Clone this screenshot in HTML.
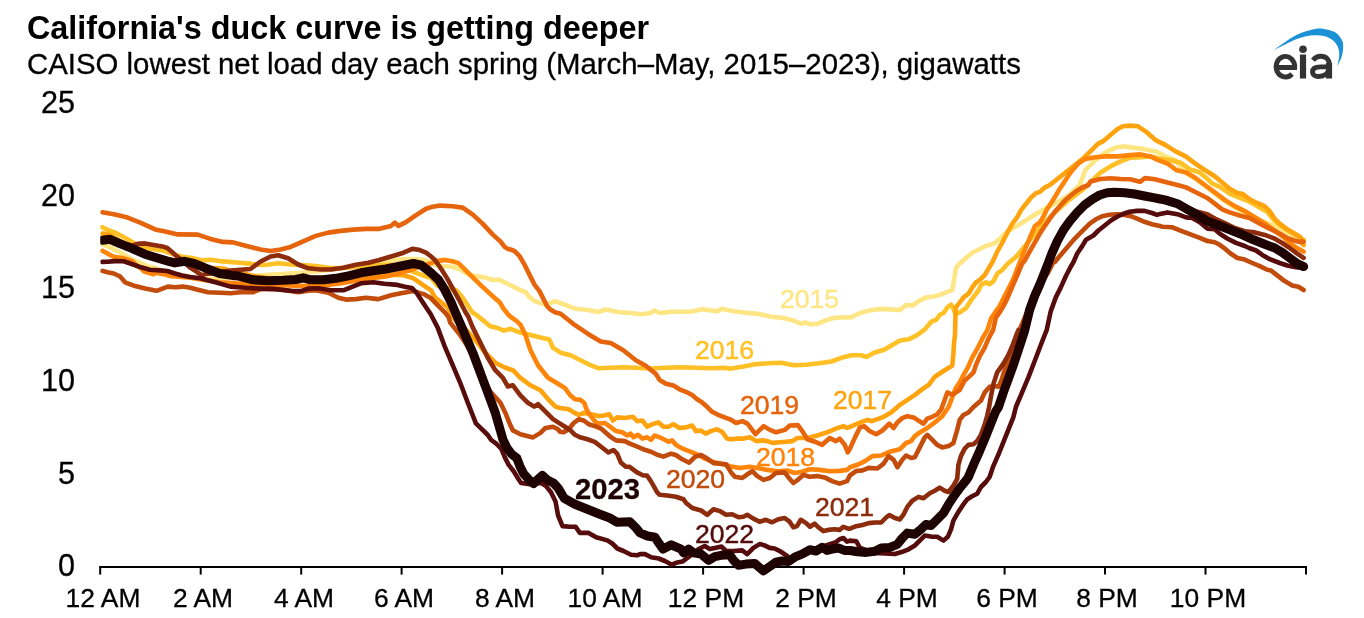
<!DOCTYPE html><html><head><meta charset="utf-8"><title>California duck curve</title>
<style>
html,body{margin:0;padding:0;background:#fff;}
body{width:1364px;height:618px;overflow:hidden;position:relative;font-family:"Liberation Sans",sans-serif;color:#000;}
.t{position:absolute;white-space:nowrap;line-height:1;will-change:transform;}
#title{left:27.0px;top:11.6px;font-size:32.35px;font-weight:bold;}
#sub{left:26.8px;top:48.8px;font-size:29.38px;-webkit-text-stroke:0.3px #000;}
.xl,.yl{-webkit-text-stroke:0.3px #000;}
.yl{right:1288.6px;font-size:30.6px;text-align:right;}
.xl{font-size:26.4px;top:584.6px;transform:translateX(-50%);}
.ll{font-size:24px;}
svg{position:absolute;left:0;top:0;}
</style></head><body>
<div class="t" id="title">California's duck curve is getting deeper</div>
<div class="t" id="sub">CAISO lowest net load day each spring (March–May, 2015–2023), gigawatts</div>
<div class="t yl" style="top:550.4px">0</div>
<div class="t yl" style="top:457.7px">5</div>
<div class="t yl" style="top:365.0px">10</div>
<div class="t yl" style="top:272.2px">15</div>
<div class="t yl" style="top:179.5px">20</div>
<div class="t yl" style="top:86.8px">25</div>
<div class="t xl" style="left:102.6px">12 AM</div>
<div class="t xl" style="left:203.1px">2 AM</div>
<div class="t xl" style="left:303.6px">4 AM</div>
<div class="t xl" style="left:404.0px">6 AM</div>
<div class="t xl" style="left:504.5px">8 AM</div>
<div class="t xl" style="left:605.0px">10 AM</div>
<div class="t xl" style="left:705.5px">12 PM</div>
<div class="t xl" style="left:806.0px">2 PM</div>
<div class="t xl" style="left:906.5px">4 PM</div>
<div class="t xl" style="left:1007.0px">6 PM</div>
<div class="t xl" style="left:1107.4px">8 PM</div>
<div class="t xl" style="left:1207.9px">10 PM</div>
<svg width="1364" height="618" viewBox="0 0 1364 618">
<path d="M99.2 567.0 H1307.0" stroke="#000" stroke-width="2" fill="none"/>
<path d="M100.2 567.0 V574.6" stroke="#000" stroke-width="2" fill="none"/>
<path d="M200.7 567.0 V574.6" stroke="#000" stroke-width="2" fill="none"/>
<path d="M301.2 567.0 V574.6" stroke="#000" stroke-width="2" fill="none"/>
<path d="M401.6 567.0 V574.6" stroke="#000" stroke-width="2" fill="none"/>
<path d="M502.1 567.0 V574.6" stroke="#000" stroke-width="2" fill="none"/>
<path d="M602.6 567.0 V574.6" stroke="#000" stroke-width="2" fill="none"/>
<path d="M703.1 567.0 V574.6" stroke="#000" stroke-width="2" fill="none"/>
<path d="M803.6 567.0 V574.6" stroke="#000" stroke-width="2" fill="none"/>
<path d="M904.1 567.0 V574.6" stroke="#000" stroke-width="2" fill="none"/>
<path d="M1004.6 567.0 V574.6" stroke="#000" stroke-width="2" fill="none"/>
<path d="M1105.0 567.0 V574.6" stroke="#000" stroke-width="2" fill="none"/>
<path d="M1205.5 567.0 V574.6" stroke="#000" stroke-width="2" fill="none"/>
<path d="M1306.0 567.0 V574.6" stroke="#000" stroke-width="2" fill="none"/>
<defs><clipPath id="cp"><rect x="100.3" y="90" width="1215" height="500"/></clipPath></defs><g clip-path="url(#cp)">
<path d="M102.4 244.3 L107.5 246.1 L119.9 252.3 L132.4 259.8 L144.9 264.8 L147.7 266.5 L153.6 267.3 L165.2 271.5 L180.3 275.3 L195.3 277.8 L210.4 279.0 L225.4 278.3 L240.5 276.5 L260.6 275.3 L280.6 274.0 L300.7 272.8 L315.7 271.5 L330.8 269.8 L345.8 267.2 L360.9 264.7 L375.9 262.7 L391.0 260.7 L403.5 259.0 L416.1 259.0 L426.1 260.2 L431.1 262.7 L434.9 264.9 L444.8 266.2 L452.3 266.8 L459.8 269.3 L467.3 273.7 L474.7 276.1 L484.7 277.4 L492.2 279.9 L499.7 279.9 L507.1 283.6 L517.1 288.6 L525.8 292.3 L528.3 296.1 L534.6 301.1 L542.0 303.6 L547.0 304.2 L552.0 302.3 L555.0 301.1 L565.6 305.0 L575.6 308.8 L588.1 310.0 L598.2 312.0 L605.7 309.5 L618.2 312.0 L630.8 313.0 L640.8 314.3 L650.8 313.0 L654.6 310.5 L659.6 313.0 L670.9 311.8 L683.4 311.8 L690.0 311.8 L702.5 309.3 L717.4 311.2 L721.8 308.7 L733.6 311.2 L746.1 312.7 L758.5 313.9 L771.0 316.8 L783.5 318.0 L793.4 320.5 L801.5 323.9 L804.7 322.4 L809.6 324.2 L817.1 323.9 L827.1 319.9 L833.3 318.0 L842.1 317.4 L850.8 317.4 L857.0 314.3 L860.7 312.8 L871.5 310.1 L881.5 308.9 L894.0 309.6 L900.0 309.9 L906.2 304.9 L912.5 305.5 L918.7 301.1 L926.2 297.4 L932.4 296.8 L939.9 294.9 L946.1 292.4 L952.3 289.9 L954.2 278.7 L956.1 267.5 L959.8 263.7 L963.6 260.0 L972.7 252.5 L985.3 246.3 L990.0 244.8 L995.0 243.0 L1000.0 238.6 L1005.0 233.6 L1011.2 229.2 L1017.4 225.5 L1024.9 221.1 L1032.4 216.2 L1039.9 211.8 L1047.3 207.4 L1054.8 203.7 L1062.3 199.3 L1069.8 194.3 L1076.0 188.7 L1079.7 185.0 L1085.3 170.2 L1095.4 160.2 L1105.4 152.6 L1115.4 147.6 L1123.0 146.4 L1133.0 147.6 L1143.0 148.9 L1155.6 151.4 L1165.6 156.4 L1175.6 160.2 L1182.3 170.0 L1194.8 178.7 L1204.8 185.6 L1214.8 193.7 L1224.7 201.2 L1234.7 207.4 L1244.7 212.4 L1252.1 216.1 L1262.1 221.1 L1272.1 224.8 L1282.1 229.8 L1292.0 234.8 L1300.0 238.5 L1302.2 240.5 L1303.6 241.6" fill="none" stroke="#FEE685" stroke-width="4.6" stroke-linejoin="round" stroke-linecap="round"/>
<path d="M102.4 227.2 L107.5 229.9 L116.2 233.0 L126.2 238.6 L134.9 243.6 L144.9 248.0 L154.8 249.2 L164.8 251.1 L174.8 254.8 L182.2 256.7 L192.2 258.0 L202.2 260.4 L210.9 259.8 L219.6 261.1 L229.6 261.9 L239.6 262.7 L249.5 263.6 L257.0 264.8 L265.0 265.0 L278.1 263.2 L290.6 264.5 L305.7 265.2 L315.7 266.0 L328.3 267.8 L340.8 268.3 L353.3 267.2 L365.9 266.5 L378.4 265.2 L391.0 264.7 L403.5 267.8 L416.1 272.8 L426.1 276.5 L431.1 277.8 L437.3 285.5 L443.6 287.4 L456.0 289.9 L462.3 297.3 L467.3 304.8 L472.2 312.3 L477.2 315.4 L480.0 317.9 L490.3 326.3 L497.8 328.1 L504.1 330.6 L510.4 328.8 L520.4 332.6 L530.5 335.1 L540.5 337.6 L549.3 339.4 L553.0 347.7 L560.6 352.7 L570.6 355.2 L580.6 360.2 L590.6 365.2 L598.2 368.2 L610.7 367.7 L623.3 367.2 L635.8 367.7 L650.8 368.5 L665.9 367.7 L680.9 367.2 L696.0 367.7 L711.0 368.2 L723.6 367.7 L731.1 368.6 L743.5 366.6 L756.1 364.1 L768.6 363.3 L781.2 362.8 L793.7 365.3 L806.2 364.8 L818.8 363.3 L831.3 361.5 L841.4 357.8 L851.4 355.3 L861.4 355.3 L866.4 357.0 L874.0 352.8 L884.0 349.8 L894.0 344.0 L900.0 340.6 L908.7 339.3 L916.2 335.6 L924.3 329.9 L931.2 321.7 L936.1 319.8 L939.9 314.8 L943.6 313.0 L947.4 307.4 L951.1 304.6 L953.3 308.0 L955.5 314.2 L959.8 312.3 L966.1 308.0 L971.7 299.3 L978.5 290.5 L981.0 284.9 L986.0 282.4 L989.7 284.3 L993.5 281.2 L997.2 273.7 L1002.2 270.0 L1007.9 263.5 L1014.9 257.9 L1019.9 252.3 L1024.9 246.1 L1031.1 238.6 L1037.4 231.1 L1044.8 222.4 L1052.3 214.9 L1059.8 208.1 L1067.3 201.2 L1074.8 195.6 L1082.2 190.0 L1090.0 182.6 L1100.4 172.7 L1110.4 166.4 L1120.5 161.4 L1130.5 157.7 L1140.5 157.2 L1150.6 156.4 L1160.6 158.9 L1170.6 160.2 L1180.6 162.7 L1190.7 170.2 L1192.3 170.0 L1199.8 172.5 L1207.3 178.7 L1212.3 183.7 L1219.7 186.8 L1227.2 191.8 L1229.7 193.7 L1237.2 196.8 L1247.2 200.5 L1259.6 207.4 L1267.1 211.8 L1273.3 219.2 L1279.6 224.8 L1287.0 229.8 L1300.0 237.9 L1302.2 238.9 L1303.6 239.8" fill="none" stroke="#FFC125" stroke-width="4.6" stroke-linejoin="round" stroke-linecap="round"/>
<path d="M102.4 233.6 L107.5 234.3 L111.2 235.5 L119.9 241.1 L132.4 247.4 L144.9 253.0 L157.3 256.7 L169.8 259.8 L182.2 262.3 L194.7 264.8 L207.2 267.9 L219.6 268.3 L225.7 269.1 L232.1 273.5 L240.5 272.8 L255.5 276.5 L270.6 278.3 L285.6 278.3 L300.7 277.8 L315.7 277.8 L330.8 277.8 L345.8 277.3 L360.9 276.5 L375.9 275.3 L391.0 274.8 L403.5 275.3 L413.5 278.3 L423.6 285.3 L431.1 290.3 L434.9 297.3 L441.1 302.3 L447.3 307.3 L451.1 313.5 L452.9 317.0 L455.2 320.1 L465.2 328.8 L475.3 340.1 L485.3 352.7 L495.3 362.7 L505.4 367.7 L512.9 370.2 L520.4 377.8 L530.5 385.3 L540.5 390.3 L548.0 399.1 L555.5 406.6 L560.0 408.0 L568.7 409.3 L573.7 412.4 L578.7 414.9 L583.7 413.0 L591.2 414.3 L598.6 416.1 L603.6 415.5 L609.2 414.3 L613.0 420.5 L617.3 417.4 L624.8 418.0 L632.9 416.8 L637.3 421.1 L642.3 420.5 L647.2 426.7 L652.2 424.2 L658.5 422.4 L663.4 426.7 L668.4 426.7 L673.4 424.2 L679.6 428.0 L685.9 427.4 L692.1 425.5 L695.9 431.1 L700.8 430.5 L705.8 433.6 L710.8 431.1 L717.0 429.2 L722.0 431.7 L727.0 438.6 L730.0 439.2 L737.5 438.6 L743.7 438.6 L749.9 437.3 L756.2 441.1 L762.4 440.4 L767.4 441.1 L772.4 442.9 L779.9 442.3 L786.1 441.7 L792.3 441.1 L797.3 438.0 L802.3 438.0 L807.3 438.0 L817.2 435.5 L827.2 432.3 L835.9 428.6 L843.4 426.1 L847.2 428.0 L850.0 426.8 L857.5 423.7 L867.4 419.9 L871.8 421.2 L882.4 417.4 L891.1 412.5 L900.0 404.8 L907.5 399.8 L915.0 394.8 L922.4 389.2 L928.7 384.8 L934.9 376.7 L942.4 371.8 L952.3 365.5 L953.3 354.9 L954.1 342.5 L955.0 334.8 L955.3 322.3 L955.7 307.4 L959.8 302.4 L963.6 297.4 L968.5 293.7 L972.3 287.4 L976.0 282.4 L979.8 279.9 L984.8 275.0 L988.5 268.7 L992.5 262.0 L997.5 251.1 L1002.5 242.3 L1007.4 232.4 L1012.4 223.6 L1017.4 216.8 L1021.2 209.9 L1026.1 203.7 L1031.1 197.5 L1036.1 193.1 L1039.9 191.9 L1044.8 187.5 L1049.8 185.0 L1082.8 158.9 L1090.4 151.4 L1097.9 143.9 L1102.9 141.4 L1110.4 135.1 L1117.9 128.8 L1123.0 126.3 L1130.5 125.6 L1138.0 126.3 L1145.5 131.3 L1155.6 140.1 L1165.6 145.1 L1175.6 151.4 L1185.7 156.4 L1195.7 163.9 L1204.8 170.0 L1214.8 176.2 L1222.2 182.5 L1229.7 188.7 L1237.2 193.1 L1242.2 193.7 L1249.6 199.3 L1257.1 203.0 L1264.6 206.1 L1269.6 211.1 L1274.6 218.6 L1279.6 223.6 L1287.0 229.2 L1294.5 233.6 L1300.5 237.3 L1302.2 243.9 L1303.6 245.0" fill="none" stroke="#FFA40F" stroke-width="4.6" stroke-linejoin="round" stroke-linecap="round"/>
<path d="M102.4 250.8 L107.5 253.6 L113.7 256.7 L122.4 258.0 L132.4 261.1 L137.4 266.1 L140.2 267.8 L144.4 271.6 L153.6 274.2 L155.2 272.8 L165.0 274.4 L169.8 276.0 L175.3 276.5 L190.3 277.8 L205.4 280.3 L220.4 282.3 L235.5 283.3 L250.5 284.1 L265.6 284.8 L280.6 285.3 L295.7 285.8 L310.7 286.1 L325.8 285.3 L340.8 283.3 L355.9 280.8 L370.9 278.3 L386.0 276.5 L401.0 272.8 L413.5 269.0 L423.6 265.2 L431.1 263.2 L434.9 261.2 L444.8 259.9 L452.3 261.2 L458.5 263.1 L464.8 269.3 L472.2 276.8 L479.7 284.2 L487.2 291.1 L494.7 298.0 L499.7 302.3 L503.4 308.5 L508.4 314.8 L510.9 317.0 L515.4 320.1 L520.4 324.6 L525.4 335.1 L530.5 350.2 L538.0 365.2 L548.0 377.8 L560.0 385.0 L565.0 388.1 L570.0 395.0 L575.0 399.3 L580.6 399.9 L584.3 403.1 L586.8 409.9 L589.9 414.9 L593.7 419.9 L597.4 423.6 L604.9 423.0 L609.9 426.7 L616.1 431.1 L622.3 432.3 L627.3 435.5 L630.4 433.6 L633.5 437.3 L637.9 434.8 L642.3 438.6 L647.2 437.3 L651.0 439.8 L654.7 435.5 L659.7 437.3 L664.7 439.8 L668.4 441.7 L672.2 440.4 L675.9 444.8 L680.9 447.9 L687.1 450.4 L693.4 452.9 L698.3 454.8 L705.0 458.7 L712.4 461.8 L721.2 463.7 L729.9 466.2 L739.9 468.0 L749.8 466.8 L757.3 468.0 L767.3 469.9 L777.2 471.2 L787.2 470.5 L794.7 473.0 L802.2 471.8 L809.6 469.3 L819.6 469.9 L829.6 471.2 L839.6 470.9 L847.0 469.9 L850.0 467.3 L857.5 464.8 L865.0 461.1 L872.4 456.1 L881.2 455.5 L889.9 451.7 L899.9 449.2 L906.1 443.0 L911.1 441.1 L914.8 436.1 L919.8 432.4 L927.3 428.0 L934.8 422.4 L942.2 416.2 L948.6 407.0 L952.3 397.3 L955.5 388.6 L959.8 382.3 L963.6 374.9 L967.9 367.4 L972.3 357.4 L977.3 348.7 L982.3 338.7 L987.6 329.6 L991.0 318.6 L996.0 311.1 L999.7 306.1 L1004.7 296.1 L1009.7 286.2 L1013.4 278.7 L1017.2 268.7 L1019.9 262.0 L1023.7 252.3 L1027.4 243.6 L1031.1 234.9 L1034.9 226.1 L1039.9 222.4 L1043.6 216.2 L1047.3 208.7 L1052.3 201.2 L1056.1 195.0 L1059.8 188.7 L1062.3 185.0 L1070.3 172.7 L1077.8 163.9 L1085.3 158.9 L1095.4 157.2 L1105.4 156.4 L1117.9 156.4 L1130.5 155.1 L1140.5 154.4 L1150.6 156.4 L1158.1 160.2 L1168.1 163.9 L1176.1 170.0 L1186.1 172.5 L1194.8 177.5 L1204.8 185.0 L1214.8 192.4 L1224.7 199.9 L1234.7 206.1 L1244.7 211.1 L1252.1 215.5 L1262.1 221.7 L1272.1 228.6 L1282.1 236.1 L1292.0 244.8 L1296.5 247.7 L1303.6 251.7" fill="none" stroke="#FF840A" stroke-width="4.6" stroke-linejoin="round" stroke-linecap="round"/>
<path d="M102.4 212.3 L115.1 214.6 L127.6 217.6 L140.2 222.6 L155.2 229.4 L165.2 231.4 L177.8 234.4 L197.8 234.6 L210.4 238.9 L222.9 241.9 L233.0 242.4 L245.5 245.7 L260.6 249.4 L270.6 250.9 L280.6 249.4 L290.6 246.9 L303.2 241.4 L315.7 235.9 L328.3 232.6 L340.8 230.9 L353.3 229.6 L365.9 228.9 L378.4 228.9 L391.0 225.9 L394.7 222.6 L398.5 225.9 L406.0 222.1 L416.1 215.1 L426.1 208.8 L431.1 207.1 L440.2 205.6 L452.7 206.3 L462.7 207.6 L472.8 214.6 L482.8 223.9 L492.8 234.6 L500.4 241.4 L504.6 246.9 L507.9 248.9 L509.6 249.3 L512.9 250.2 L514.6 251.2 L519.6 256.2 L524.6 264.9 L529.6 274.9 L534.6 284.9 L539.5 291.1 L543.3 298.6 L547.0 306.1 L550.8 309.8 L555.0 312.3 L560.6 313.8 L573.1 323.8 L588.1 333.9 L600.7 341.4 L610.7 343.1 L623.3 350.2 L635.8 360.2 L645.8 365.7 L655.9 374.0 L659.7 380.0 L665.9 383.7 L673.4 385.6 L679.6 389.3 L685.9 391.8 L692.1 395.0 L697.1 399.3 L702.1 402.4 L707.1 406.8 L712.1 411.8 L717.0 414.3 L723.3 416.8 L730.0 419.3 L736.2 423.0 L742.5 421.1 L747.4 423.6 L755.5 434.2 L763.7 426.1 L769.9 429.9 L776.1 432.3 L784.8 429.9 L789.8 425.5 L797.9 425.1 L802.3 431.1 L807.3 439.2 L814.8 441.7 L822.2 444.8 L829.7 438.0 L835.9 441.1 L839.7 438.6 L844.7 444.8 L847.8 452.3 L850.0 448.6 L855.0 437.4 L860.0 427.4 L864.3 426.2 L869.9 431.2 L876.2 434.3 L882.4 430.5 L889.3 423.7 L893.6 428.0 L897.4 422.4 L902.3 418.1 L907.3 416.2 L913.6 417.4 L918.5 420.6 L923.5 423.7 L927.3 418.7 L932.3 416.8 L937.2 414.3 L941.4 409.1 L947.4 392.3 L952.3 394.8 L959.8 389.8 L964.2 381.1 L971.0 374.9 L973.5 372.4 L976.0 364.9 L979.8 356.2 L984.8 347.4 L988.5 338.7 L993.2 329.6 L996.0 317.3 L999.7 312.3 L1003.4 306.1 L1007.2 298.6 L1010.9 289.9 L1014.7 281.2 L1018.4 272.5 L1022.1 263.7 L1024.5 261.0 L1029.9 251.1 L1034.9 242.3 L1039.9 233.6 L1044.8 226.1 L1049.8 218.7 L1054.8 211.8 L1059.8 206.2 L1064.8 200.6 L1069.8 196.2 L1076.0 191.2 L1082.2 187.5 L1088.5 185.0 L1090.4 181.5 L1100.4 179.0 L1110.4 178.2 L1120.5 179.0 L1130.0 179.3 L1140.0 181.8 L1145.0 178.1 L1154.9 179.3 L1167.4 182.5 L1177.4 185.0 L1186.1 187.4 L1194.8 191.8 L1207.3 198.0 L1214.8 203.7 L1222.2 209.3 L1229.7 212.4 L1239.7 215.5 L1249.6 218.0 L1259.6 223.6 L1269.6 228.6 L1279.6 233.6 L1288.3 238.5 L1295.8 241.0 L1300.0 242.0 L1302.2 241.4 L1303.6 241.8" fill="none" stroke="#E6640B" stroke-width="4.6" stroke-linejoin="round" stroke-linecap="round"/>
<path d="M102.4 270.9 L107.5 272.3 L113.7 273.5 L119.9 276.3 L125.1 282.3 L135.1 286.1 L145.2 288.6 L156.5 290.8 L167.8 286.6 L175.3 287.3 L182.8 286.6 L190.3 287.8 L197.8 289.8 L207.9 292.3 L220.4 292.8 L230.5 293.3 L240.5 292.3 L253.0 292.3 L260.6 289.1 L270.6 288.6 L285.6 290.3 L298.2 292.1 L308.2 290.8 L315.7 290.3 L328.3 292.8 L338.3 297.8 L345.8 299.6 L355.9 299.1 L365.9 297.8 L378.4 299.1 L391.0 295.3 L401.0 293.3 L413.5 291.1 L423.6 294.1 L431.1 298.3 L434.9 302.3 L439.8 307.3 L444.8 312.3 L448.6 317.0 L450.2 322.6 L460.2 335.1 L470.3 350.2 L480.3 372.7 L490.3 391.5 L500.4 402.8 L505.4 412.9 L510.4 425.4 L512.9 430.4 L520.4 434.2 L533.0 437.4 L540.5 432.9 L545.5 427.9 L553.0 426.7 L558.0 429.2 L560.0 431.7 L563.7 432.3 L568.7 429.2 L573.7 423.0 L578.7 419.3 L583.7 420.5 L588.7 424.2 L594.9 426.1 L601.1 428.6 L606.1 433.0 L611.1 437.3 L616.1 440.4 L624.8 441.1 L629.8 443.6 L637.3 446.7 L644.8 449.8 L651.0 451.7 L657.2 454.8 L663.4 456.6 L671.0 453.7 L675.9 455.0 L682.2 459.3 L689.2 462.7 L695.0 456.8 L701.2 455.0 L707.4 458.7 L713.7 463.1 L719.9 463.7 L726.1 464.3 L731.1 472.4 L734.9 476.8 L742.3 478.0 L747.3 474.3 L752.3 471.2 L757.3 476.1 L763.5 479.9 L769.8 478.0 L776.0 473.0 L784.7 472.4 L788.5 477.4 L793.4 483.0 L798.4 479.3 L803.4 474.9 L809.6 476.8 L817.1 476.1 L824.6 477.4 L832.1 481.1 L839.6 483.6 L847.0 481.1 L850.0 475.4 L856.2 471.0 L862.5 470.4 L868.7 467.9 L877.4 468.5 L883.7 463.6 L888.6 456.1 L893.6 459.8 L897.4 467.3 L902.3 459.8 L906.1 455.5 L911.1 458.0 L914.8 457.3 L919.8 447.4 L924.8 437.4 L927.3 434.9 L932.3 439.9 L937.2 444.9 L942.2 447.4 L948.5 446.1 L953.4 443.0 L957.2 429.9 L959.7 419.9 L963.4 415.0 L968.4 412.5 L973.5 407.0 L981.0 400.4 L984.8 392.3 L989.7 386.7 L994.7 386.1 L998.5 386.7 L1001.6 379.9 L1004.7 369.9 L1008.4 359.9 L1012.2 349.9 L1015.9 340.0 L1020.0 328.9 L1027.9 310.2 L1035.4 292.7 L1043.0 280.1 L1048.0 272.6 L1053.0 262.6 L1054.8 262.0 L1059.8 256.0 L1067.3 247.3 L1074.8 238.6 L1082.2 231.1 L1089.7 223.6 L1095.9 219.3 L1102.2 216.2 L1109.6 214.7 L1117.1 214.3 L1124.6 214.9 L1130.8 216.2 L1137.1 218.7 L1144.5 221.8 L1152.0 224.3 L1160.0 226.1 L1162.4 226.7 L1172.4 227.3 L1179.9 230.4 L1189.8 234.2 L1199.8 237.9 L1207.3 241.0 L1214.8 242.3 L1219.7 244.8 L1224.2 248.1 L1229.9 253.0 L1237.4 258.0 L1243.6 259.2 L1252.3 263.0 L1259.8 266.1 L1267.3 269.8 L1271.0 270.5 L1277.2 275.4 L1284.7 281.1 L1292.2 285.4 L1298.4 286.7 L1303.6 290.0" fill="none" stroke="#C24C0C" stroke-width="4.6" stroke-linejoin="round" stroke-linecap="round"/>
<path d="M102.4 239.7 L110.0 238.9 L119.9 243.0 L132.4 245.5 L137.4 243.9 L144.9 243.4 L153.6 244.9 L162.3 246.4 L167.3 248.0 L172.3 252.3 L177.3 256.7 L182.2 260.4 L189.7 267.3 L195.3 270.8 L197.2 272.3 L202.2 275.4 L205.4 274.0 L215.4 273.3 L227.9 270.8 L240.5 269.8 L250.5 269.0 L260.6 261.5 L270.6 256.5 L278.1 255.2 L288.1 258.2 L298.2 264.5 L308.2 268.3 L320.7 269.5 L330.8 269.5 L343.3 267.8 L355.9 264.7 L368.4 262.7 L378.4 260.2 L391.0 256.5 L403.5 252.7 L412.3 248.9 L418.6 249.7 L426.1 252.7 L431.1 256.5 L434.9 259.9 L441.1 268.7 L447.3 278.6 L453.5 289.9 L459.8 301.1 L465.0 311.2 L468.5 317.0 L472.8 327.6 L480.3 342.6 L487.8 357.7 L495.3 370.2 L502.9 377.8 L507.9 386.5 L512.9 385.3 L520.4 395.3 L527.9 402.8 L534.2 406.6 L538.0 404.1 L545.5 411.6 L553.0 419.1 L560.0 423.6 L565.0 426.7 L570.0 429.9 L575.0 434.8 L579.9 437.3 L586.7 439.0 L594.7 441.9 L602.1 447.5 L608.4 452.5 L613.4 450.0 L617.1 453.7 L620.8 462.4 L625.8 466.8 L629.6 466.8 L637.0 472.4 L643.3 475.5 L647.0 475.5 L650.0 479.9 L652.3 483.6 L657.2 492.3 L659.7 494.8 L667.2 495.5 L675.9 496.7 L683.4 499.2 L686.1 503.0 L692.3 508.0 L701.1 510.5 L707.3 514.8 L713.5 509.2 L719.8 511.1 L726.0 514.8 L732.2 514.2 L738.5 517.3 L743.4 516.7 L747.2 514.8 L753.4 518.6 L759.6 521.7 L765.9 519.8 L772.1 522.3 L778.3 519.2 L784.6 518.0 L789.6 521.7 L793.3 527.3 L797.0 526.1 L800.8 519.8 L805.8 522.9 L810.0 526.7 L814.6 523.7 L818.4 527.4 L823.4 531.1 L828.3 529.9 L834.6 529.3 L839.6 529.9 L843.3 526.8 L848.3 528.6 L850.0 528.7 L856.2 526.2 L862.5 525.0 L868.7 523.1 L874.9 522.5 L881.2 522.5 L886.1 517.5 L889.3 515.0 L894.9 518.1 L899.9 519.4 L903.6 514.4 L907.3 506.9 L912.3 500.7 L918.5 496.9 L923.5 498.2 L929.8 493.2 L934.8 490.7 L939.7 487.6 L944.7 490.7 L948.5 492.0 L953.4 485.7 L957.2 478.9 L958.4 464.8 L960.9 456.1 L964.7 448.6 L968.4 444.9 L973.4 444.2 L977.1 441.1 L980.9 434.9 L984.6 424.9 L987.1 416.2 L989.1 407.0 L991.0 396.1 L993.5 383.6 L997.2 372.4 L1003.4 363.7 L1008.4 354.9 L1012.2 346.2 L1015.9 336.2 L1018.4 330.0 L1021.5 334.8 L1025.3 322.3 L1030.2 309.9 L1035.2 296.1 L1040.2 284.9 L1045.2 272.5 L1049.2 262.0 L1052.9 252.3 L1057.9 241.1 L1064.2 229.9 L1070.4 221.1 L1077.9 212.4 L1085.3 204.9 L1092.8 199.3 L1099.9 195.0 L1107.2 192.7 L1114.6 192.2 L1124.6 192.7 L1134.6 194.0 L1144.5 196.0 L1153.3 197.7 L1160.0 199.0 L1164.9 199.3 L1177.4 202.7 L1187.3 207.4 L1197.3 211.8 L1207.3 214.2 L1214.8 218.6 L1224.7 223.0 L1234.7 228.0 L1244.8 231.2 L1254.8 232.4 L1264.8 234.9 L1274.8 238.7 L1282.2 243.0 L1289.7 248.0 L1297.2 253.6 L1303.6 257.9" fill="none" stroke="#8C2C0C" stroke-width="4.6" stroke-linejoin="round" stroke-linecap="round"/>
<path d="M102.4 261.9 L107.5 261.7 L114.9 261.1 L123.7 261.3 L132.4 264.2 L141.1 267.3 L149.8 269.8 L159.8 270.4 L167.3 271.0 L174.8 273.5 L182.2 275.4 L190.0 277.0 L200.4 278.3 L215.4 282.3 L230.5 286.6 L245.5 287.8 L260.6 288.6 L275.6 289.1 L290.6 290.8 L300.7 291.1 L308.2 288.6 L318.2 288.3 L330.8 290.3 L343.3 290.3 L350.8 287.3 L360.9 283.3 L373.4 282.3 L384.2 283.8 L397.5 284.9 L404.9 286.7 L411.8 288.0 L416.2 292.3 L421.1 299.8 L426.7 308.2 L430.6 314.0 L437.7 327.6 L445.2 347.7 L452.7 365.2 L460.2 382.8 L467.8 402.8 L475.9 423.3 L487.8 435.0 L491.2 440.0 L496.2 443.7 L501.2 448.7 L504.9 457.4 L508.7 464.9 L513.7 471.2 L517.4 477.4 L521.1 483.0 L529.9 484.2 L541.1 483.0 L546.1 486.1 L551.0 492.3 L555.5 501.4 L558.1 515.5 L562.5 526.1 L569.9 526.7 L575.5 526.7 L579.9 532.9 L588.6 532.9 L596.1 537.3 L607.3 540.4 L612.3 543.5 L617.3 548.5 L623.5 551.0 L631.0 554.7 L637.2 555.3 L640.0 554.1 L645.0 554.1 L651.2 557.2 L658.7 558.5 L664.9 561.0 L671.8 564.7 L676.1 562.8 L682.4 561.6 L687.4 557.8 L692.3 554.1 L698.6 549.1 L704.8 546.0 L709.8 549.1 L714.8 547.9 L721.6 546.6 L726.0 551.0 L733.5 551.0 L742.2 550.4 L747.2 554.1 L753.4 547.9 L759.6 544.1 L764.6 545.4 L769.6 547.9 L774.6 548.5 L780.8 551.6 L787.1 556.0 L789.6 559.1 L795.9 555.4 L809.6 549.8 L822.1 546.7 L835.8 542.3 L839.6 539.2 L843.3 538.0 L847.0 541.7 L850.0 540.6 L856.2 541.2 L860.0 548.0 L874.9 553.0 L894.9 554.0 L902.3 551.8 L908.6 549.3 L914.8 545.5 L921.0 539.3 L924.8 535.6 L931.0 536.6 L937.2 536.8 L943.5 540.6 L947.8 536.8 L951.0 529.3 L953.4 520.6 L958.4 511.9 L963.4 504.4 L967.2 499.4 L972.1 496.3 L977.1 493.8 L980.9 487.0 L985.9 482.0 L989.6 477.0 L993.3 466.1 L998.3 454.8 L1003.3 442.4 L1008.3 429.9 L1013.3 417.4 L1015.9 407.0 L1022.1 392.3 L1028.4 377.4 L1034.6 361.2 L1040.8 345.0 L1046.8 329.6 L1050.8 311.1 L1055.8 297.4 L1060.8 287.4 L1065.8 276.2 L1070.3 267.5 L1073.5 262.0 L1077.2 253.5 L1082.2 246.1 L1086.0 239.8 L1093.4 235.5 L1098.4 230.5 L1104.7 225.5 L1110.9 220.5 L1117.1 216.8 L1123.4 213.7 L1129.6 211.8 L1137.1 210.9 L1144.5 210.9 L1152.0 213.0 L1157.0 214.9 L1160.0 213.9 L1167.4 212.4 L1177.4 214.2 L1186.1 217.4 L1192.3 218.0 L1199.8 222.3 L1207.3 228.6 L1214.8 229.2 L1219.7 233.6 L1227.2 238.5 L1235.9 242.9 L1244.7 246.0 L1249.1 248.0 L1256.1 250.5 L1262.3 254.9 L1269.8 259.2 L1279.7 263.0 L1287.2 265.5 L1295.9 267.3 L1303.6 268.0" fill="none" stroke="#560C0C" stroke-width="4.6" stroke-linejoin="round" stroke-linecap="round"/>
<path d="M102.4 240.3 L110.0 239.3 L119.9 243.6 L132.4 248.6 L144.9 254.2 L157.3 258.0 L169.8 261.7 L174.8 262.9 L184.7 261.3 L194.7 263.6 L207.5 268.8 L219.6 273.5 L222.9 274.0 L232.1 275.4 L238.0 276.0 L253.0 279.8 L268.1 280.8 L283.1 280.3 L295.7 279.5 L303.2 277.8 L310.7 279.8 L323.3 279.8 L335.8 278.3 L348.3 275.8 L360.9 272.8 L373.4 270.8 L386.0 269.0 L398.5 266.5 L413.5 263.5 L421.1 265.2 L427.3 269.8 L431.7 273.5 L438.6 279.9 L444.8 289.9 L451.1 302.3 L454.8 311.0 L457.5 317.3 L465.2 335.1 L472.8 352.7 L480.3 372.7 L487.8 392.8 L495.3 412.9 L503.1 440.0 L506.8 447.5 L511.2 453.7 L516.8 458.1 L519.9 466.2 L523.6 473.7 L528.6 479.3 L533.6 483.6 L538.6 478.6 L542.3 475.5 L547.3 479.9 L553.5 483.0 L558.5 488.6 L564.2 498.3 L574.9 504.2 L587.4 509.2 L599.9 514.2 L609.8 518.0 L617.3 522.3 L629.8 521.7 L636.0 527.9 L640.0 532.9 L647.5 536.0 L655.0 537.3 L658.7 542.9 L663.1 549.1 L671.2 544.8 L681.1 549.1 L683.6 552.9 L688.6 549.1 L693.6 552.9 L701.1 554.1 L708.5 560.3 L714.8 556.6 L721.0 555.3 L729.7 554.7 L733.5 560.3 L738.5 565.3 L745.9 564.1 L754.7 563.4 L758.4 566.6 L763.4 570.9 L769.6 566.6 L775.9 562.2 L782.1 561.0 L788.3 561.6 L795.8 556.6 L802.0 554.1 L810.0 549.7 L815.9 551.1 L822.1 547.3 L827.1 550.4 L832.1 549.2 L838.3 548.0 L844.5 550.4 L850.0 550.5 L857.5 551.8 L866.2 552.4 L874.9 551.2 L881.2 548.0 L889.9 547.4 L897.4 544.3 L902.3 538.1 L907.3 533.1 L914.8 534.3 L921.0 529.3 L926.0 524.4 L931.0 525.6 L937.2 519.4 L943.5 513.1 L948.5 504.4 L953.4 496.9 L959.7 488.2 L965.9 480.7 L968.4 477.0 L974.6 462.3 L979.6 451.1 L985.9 436.1 L990.8 423.7 L995.8 411.2 L998.5 407.0 L1003.4 392.3 L1008.4 378.6 L1013.4 364.9 L1018.4 349.9 L1024.6 330.8 L1029.6 309.9 L1034.6 296.1 L1039.6 284.9 L1044.6 272.5 L1048.6 262.0 L1052.3 252.3 L1057.3 241.1 L1063.5 229.9 L1069.8 221.1 L1077.2 212.4 L1084.7 204.9 L1092.2 199.3 L1099.7 195.0 L1107.2 192.7 L1114.6 192.2 L1124.6 192.7 L1134.6 194.0 L1144.5 196.0 L1153.3 197.7 L1160.0 199.0 L1164.9 199.9 L1177.4 203.7 L1187.3 209.3 L1197.3 214.9 L1207.3 221.1 L1217.2 224.8 L1229.9 229.7 L1239.9 233.7 L1252.3 239.3 L1264.8 244.3 L1274.8 248.0 L1282.2 252.4 L1289.7 258.0 L1297.2 263.6 L1303.6 266.6" fill="none" stroke="#1E0303" stroke-width="9.0" stroke-linejoin="round" stroke-linecap="round"/>
</g>
</svg>
<div class="t" style="left:780.4px;top:285.9px;font-size:26.6px;color:#FEE685;-webkit-text-stroke:0.45px #FEE685;">2015</div>
<div class="t" style="left:695.4px;top:337.0px;font-size:26.6px;color:#FFC125;-webkit-text-stroke:0.45px #FFC125;">2016</div>
<div class="t" style="left:833.3px;top:386.9px;font-size:26.6px;color:#FFA40F;-webkit-text-stroke:0.45px #FFA40F;">2017</div>
<div class="t" style="left:755.9px;top:443.7px;font-size:26.6px;color:#FF840A;-webkit-text-stroke:0.45px #FF840A;">2018</div>
<div class="t" style="left:740.4px;top:391.9px;font-size:26.6px;color:#E6640B;-webkit-text-stroke:0.45px #E6640B;">2019</div>
<div class="t" style="left:665.8px;top:465.8px;font-size:26.6px;color:#C24C0C;-webkit-text-stroke:0.45px #C24C0C;">2020</div>
<div class="t" style="left:814.9px;top:493.7px;font-size:26.6px;color:#8C2C0C;-webkit-text-stroke:0.45px #8C2C0C;">2021</div>
<div class="t" style="left:695.4px;top:520.5px;font-size:26.6px;color:#560C0C;-webkit-text-stroke:0.45px #560C0C;">2022</div>
<div class="t" style="left:575.0px;top:474.6px;font-size:29.2px;color:#1E0303;-webkit-text-stroke:0.3px #1E0303;font-weight:bold;">2023</div>
<svg width="1364" height="618" viewBox="0 0 1364 618" style="position:absolute;left:0;top:0">
<path d="M1273.7 49.3 C1277.0 47.0 1287.6 38.9 1293.6 35.6 C1299.6 32.2 1305.0 30.6 1309.8 29.3 C1314.6 28.0 1318.1 27.5 1322.3 27.8 C1326.4 28.1 1331.5 29.4 1334.7 31.2 C1337.9 33.0 1340.2 36.2 1341.6 38.7 C1343.0 41.2 1343.2 43.2 1343.2 46.1 C1343.2 49.1 1342.6 52.9 1341.6 56.1 C1340.6 59.3 1337.9 63.9 1337.2 65.5 L1337.2 65.5 C1337.5 63.9 1338.8 58.9 1339.1 56.1 C1339.3 53.3 1339.4 51.1 1338.7 48.6 C1338.0 46.1 1336.6 43.2 1334.7 41.2 C1332.8 39.1 1330.2 37.3 1327.2 36.2 C1324.3 35.0 1321.0 34.4 1317.3 34.3 C1313.5 34.2 1309.2 34.5 1304.8 35.6 C1300.5 36.6 1296.3 38.3 1291.1 40.5 C1285.9 42.8 1276.6 47.8 1273.7 49.3 Z" fill="#1B92D6" transform="translate(0,0.9)"/>
<g fill="none" stroke="#333333" stroke-width="4.9">
<path d="M1276.0 67.5 H1294.7 A9.3 10.3 0 1 0 1292.0 74.0"/>
<path d="M1313.0 60.3 C1315 57.6 1318 56.3 1320.8 56.3 C1326.4 56.3 1329.4 59.6 1329.4 65"/>
<path d="M1329.4 66.9 H1320.5 C1315.0 66.9 1312.5 69 1312.5 71.9 C1312.5 74.9 1315.0 76.5 1318.6 76.5 C1324.0 76.5 1329.4 73.6 1329.4 68.0"/>
</g>
<path d="M1303 54.6 V78.6 M1329.0 63 V78.6" stroke="#333333" stroke-width="6.2" fill="none"/>
<circle cx="1303" cy="49.3" r="3.8" fill="#333333"/>
</svg>
</body></html>
